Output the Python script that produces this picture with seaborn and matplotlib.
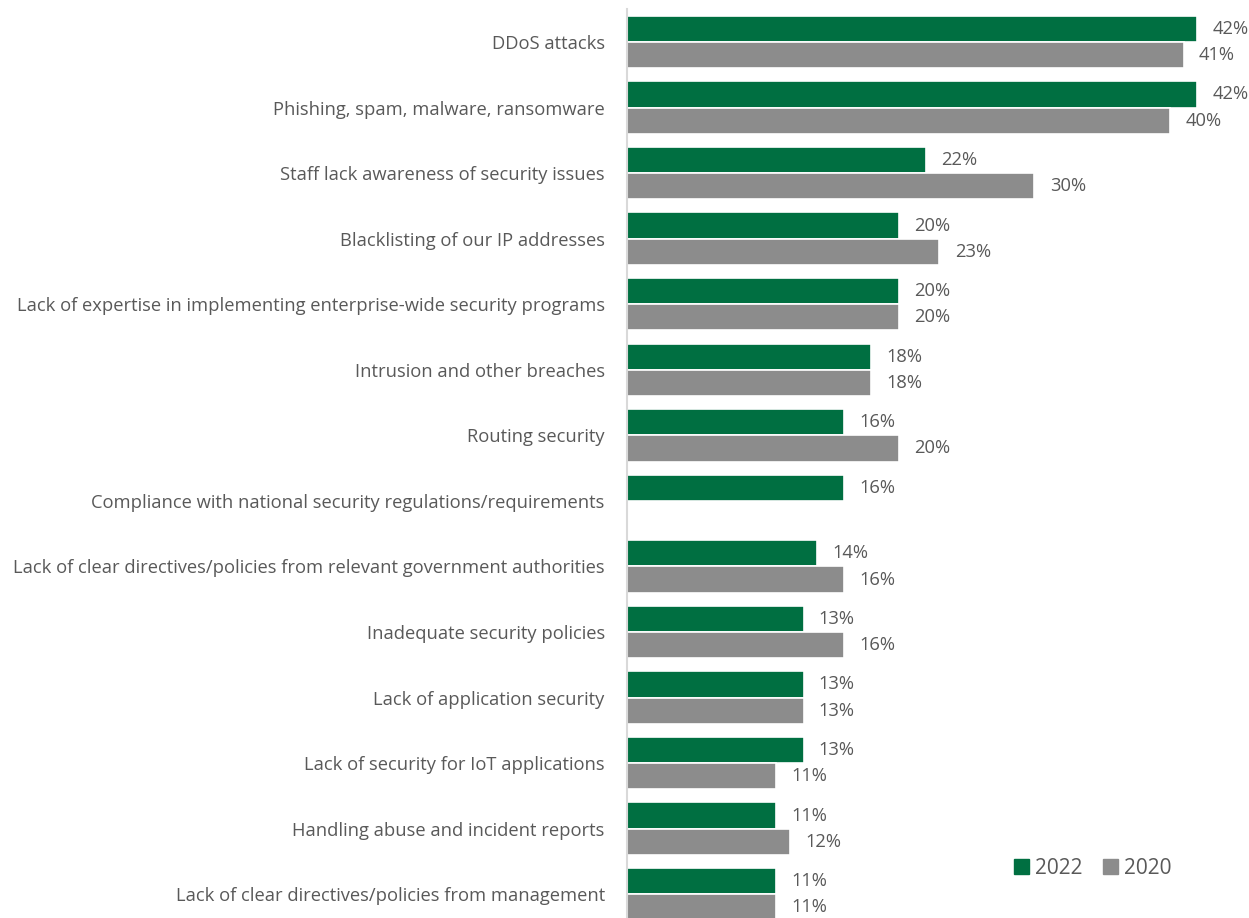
import numpy as np
import pandas as pd
import matplotlib
matplotlib.use("Agg")
import matplotlib.pyplot as plt
import seaborn as sns

categories = [
    "DDoS attacks",
    "Phishing, spam, malware, ransomware",
    "Staff lack awareness of security issues",
    "Blacklisting of our IP addresses",
    "Lack of expertise in implementing enterprise-wide security programs",
    "Intrusion and other breaches",
    "Routing security",
    "Compliance with national security regulations/requirements",
    "Lack of clear directives/policies from relevant government authorities",
    "Inadequate security policies",
    "Lack of application security",
    "Lack of security for IoT applications",
    "Handling abuse and incident reports",
    "Lack of clear directives/policies from management",
]
values_2022 = [42, 42, 22, 20, 20, 18, 16, 16, 14, 13, 13, 13, 11, 11]
values_2020 = [41, 40, 30, 23, 20, 18, 20, np.nan, 16, 16, 13, 11, 12, 11]
years = ["2022", "2020"]

GREEN = "#006f41"
GRAY = "#8c8c8c"
TEXT = "#595959"

df = pd.DataFrame({
    "category": categories * 2,
    "year": [years[0]] * len(categories) + [years[1]] * len(categories),
    "value": values_2022 + values_2020,
})

sns.set_theme(style="white")
plt.rcParams["font.family"] = ["Open Sans", "DejaVu Sans"]

fig = plt.figure(figsize=(12.49, 9.18), dpi=100)
ax = fig.add_axes([0.502, -0.0098, 0.498, 0.9997])

sns.barplot(
    data=df, y="category", x="value", hue="year", order=categories,
    hue_order=years, palette=[GREEN, GRAY], saturation=1, orient="h",
    width=0.8, edgecolor="white", linewidth=1.2, ax=ax, legend=False,
)

# value labels placed just past the end of each bar
for container in ax.containers:
    for bar in container:
        if bar is None:
            continue
        w = bar.get_width()
        if not np.isfinite(w):
            continue
        yc = bar.get_y() + bar.get_height() / 2
        ax.annotate(f"{w:g}%", xy=(w, yc), xytext=(11, 0),
                    textcoords="offset points", va="center", ha="left",
                    fontsize=13.2, color=TEXT)

ax.set_xlim(0, 45.8)
ax.set_ylim(len(categories) - 0.5, -0.5)
ax.set_xlabel("")
ax.set_ylabel("")
ax.set_xticks([])
ax.tick_params(axis="y", length=0, pad=16, labelsize=13.2, labelcolor=TEXT)
for side in ["top", "right", "bottom"]:
    ax.spines[side].set_visible(False)
ax.spines["left"].set_color("#d9d9d9")
ax.spines["left"].set_linewidth(1.5)

handles = [plt.Rectangle((0, 0), 1, 1, color=c) for c in [GREEN, GRAY]]
fig.legend(
    handles, years, loc="center", bbox_to_anchor=(1093 / 1249, 1 - 868 / 918),
    ncol=2, frameon=False, fontsize=15, labelcolor=TEXT,
    handlelength=0.7, handleheight=0.7, handletextpad=0.3, columnspacing=1.0,
)

fig.savefig("out.png", dpi=100)
